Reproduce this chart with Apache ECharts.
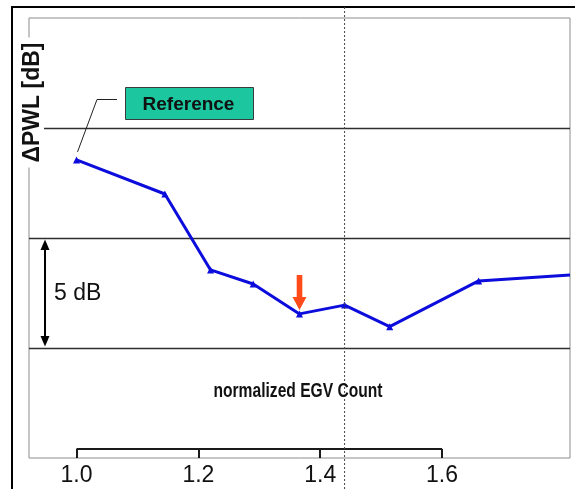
<!DOCTYPE html>
<html>
<head>
<meta charset="utf-8">
<script src="https://cdn.jsdelivr.net/npm/echarts@6/dist/echarts.min.js"></script>
<style>
  html, body { margin: 0; padding: 0; background: #ffffff; }
  #chart { width: 575px; height: 489px; }
</style>
</head>
<body>
<div id="chart"></div>
<script>
// ---- data ----
const egvCount = [1.0, 1.145, 1.22, 1.29, 1.366, 1.44, 1.514, 1.66, 1.81];
const deltaPWL = [13.55, 12.0, 8.55, 7.91, 6.55, 6.95, 5.97, 8.05, 8.32];
const xTickValues = [1.0, 1.2, 1.4, 1.6];
const xRange = [0.922, 1.81];
const yRange = [0, 20];
const yStep = 5;
const refLineX = 1.44;          // dotted vertical reference line
const arrowIndex = 4;           // point marked with the orange arrow
const referenceIndex = 0;       // point labelled "Reference"
const scaleBar = [5, 10];       // "5 dB" scale bar
const scaleBarLabel = '5 dB';
const yAxisTitle = 'ΔPWL [dB]';
const xAxisTitle = 'normalized EGV Count';
const referenceLabel = 'Reference';

const FONT = '"Liberation Sans", Arial, sans-serif';
const chart = echarts.init(document.getElementById('chart'), null, { renderer: 'canvas' });

const lastIdx = egvCount.length - 1;
const option = {
  animation: false,
  backgroundColor: '#ffffff',
  grid: {
    left: 29, right: 5, top: 18, bottom: 31,
    show: true, borderColor: '#8c8c8c', borderWidth: 1, backgroundColor: '#ffffff'
  },
  xAxis: {
    type: 'value',
    min: xRange[0], max: xRange[1],
    axisLine: { show: false },
    splitLine: { show: false },
    axisTick: {
      show: true, inside: true, length: 9,
      customValues: xTickValues,
      lineStyle: { color: '#1a1a1a', width: 2 }
    },
    axisLabel: {
      show: true, customValues: xTickValues,
      formatter: v => v.toFixed(1),
      fontFamily: FONT, fontSize: 23, color: '#111', margin: 6
    }
  },
  yAxis: {
    type: 'value',
    min: yRange[0], max: yRange[1], interval: yStep,
    axisLine: { show: false },
    axisTick: { show: false },
    axisLabel: { show: false },
    splitLine: { show: true, showMinLine: false, showMaxLine: false,
      lineStyle: { color: '#2e2e2e', width: 1.3 } }
  },
  series: [{
    type: 'line',
    data: egvCount.map((x, i) => i === lastIdx
      ? { value: [x, deltaPWL[i]], symbol: 'none' }
      : [x, deltaPWL[i]]),
    symbol: 'triangle', symbolSize: 7,
    lineStyle: { color: '#0c0cdc', width: 3 },
    itemStyle: { color: '#0c0cdc' },
    clip: false,
    z: 5
  }]
};
chart.setOption(option);

function px(x, y) { return chart.convertToPixel({ gridIndex: 0 }, [x, y]); }

const gridBottom = px(xRange[0], yRange[0])[1];
const bracketL = px(xTickValues[0], 0)[0];
const bracketR = px(xTickValues[xTickValues.length - 1], 0)[0];
const refX = px(refLineX, 0)[0];
const pA = px(egvCount[arrowIndex], deltaPWL[arrowIndex]);
const pR = px(egvCount[referenceIndex], deltaPWL[referenceIndex]);
const sbTop = px(xRange[0], scaleBar[1])[1];
const sbBot = px(xRange[0], scaleBar[0])[1];
const sbX = 45;

const gfx = [
  // outer frame
  { type: 'rect', z: 1, shape: { x: 12, y: 7, width: 700, height: 600 },
    style: { fill: 'none', stroke: '#000', lineWidth: 2 } },
  // bracket joining the x ticks
  { type: 'line', z: 100, shape: { x1: bracketL, y1: gridBottom - 9, x2: bracketR, y2: gridBottom - 9 },
    style: { stroke: '#1a1a1a', lineWidth: 2 } },
  // dotted vertical reference line
  { type: 'line', z: 100, shape: { x1: refX, y1: 7, x2: refX, y2: 489 },
    style: { stroke: '#444', lineWidth: 1, lineDash: [2, 2] } },
  // y axis title
  { type: 'text', z: 100, x: 32.5, y: 102.5, rotation: Math.PI / 2,
    style: { text: yAxisTitle, x: 0, y: 0, align: 'center', verticalAlign: 'middle',
      font: 'bold 23px ' + FONT, fill: '#111', backgroundColor: '#ffffff', padding: [0, 5] } },
  // x axis title (condensed look)
  { type: 'text', z: 100, x: 298, y: 391, scaleX: 0.78, scaleY: 1,
    style: { text: xAxisTitle, x: 0, y: 0, align: 'center', verticalAlign: 'middle',
      font: 'bold 20px ' + FONT, fill: '#111' } },
  // Reference callout
  { type: 'polyline', z: 100,
    shape: { points: [[117, 99.5], [97, 99.5], [pR[0] + 1, pR[1] - 8]] },
    style: { stroke: '#222', lineWidth: 1, fill: 'none' } },
  { type: 'rect', z: 100, shape: { x: 125.5, y: 87.5, width: 128, height: 32 },
    style: { fill: '#1cc79f', stroke: '#3a3a3a', lineWidth: 1 } },
  { type: 'text', z: 101, x: 188.5, y: 104.5,
    style: { text: referenceLabel, x: 0, y: 0, align: 'center', verticalAlign: 'middle',
      font: 'bold 19px ' + FONT, fill: '#111' } },
  // 5 dB scale bar
  { type: 'line', z: 100, shape: { x1: sbX, y1: sbTop + 8, x2: sbX, y2: sbBot - 8 },
    style: { stroke: '#000', lineWidth: 2 } },
  { type: 'polygon', z: 100, shape: { points: [[sbX, sbTop + 1.5], [sbX - 4.5, sbTop + 12], [sbX + 4.5, sbTop + 12]] },
    style: { fill: '#000' } },
  { type: 'polygon', z: 100, shape: { points: [[sbX, sbBot - 1.5], [sbX - 4.5, sbBot - 12], [sbX + 4.5, sbBot - 12]] },
    style: { fill: '#000' } },
  { type: 'text', z: 100, x: 54, y: (sbTop + sbBot) / 2 + 1,
    style: { text: scaleBarLabel, x: 0, y: 0, align: 'left', verticalAlign: 'middle',
      font: '23px ' + FONT, fill: '#111' } },
  // orange arrow
  { type: 'polygon', z: 100,
    shape: { points: [
      [pA[0] - 2.8, pA[1] - 39], [pA[0] + 2.8, pA[1] - 39], [pA[0] + 2.8, pA[1] - 17],
      [pA[0] + 7, pA[1] - 17], [pA[0], pA[1] - 4], [pA[0] - 7, pA[1] - 17], [pA[0] - 2.8, pA[1] - 17]
    ] },
    style: { fill: '#ff4a1a' } }
];
chart.setOption({ graphic: gfx });
</script>
</body>
</html>
